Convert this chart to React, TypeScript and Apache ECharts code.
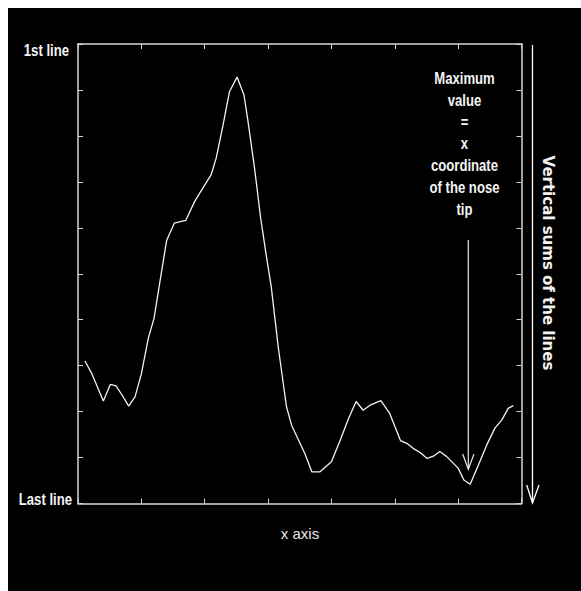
import React, { useEffect, useRef } from "react";
import * as echarts from "echarts";

// x positions (column index, 0..70) and vertical sums (0 = top "1st line", 100 = bottom "Last line")
const xs = [1.1, 2.2, 4.0, 5.1, 6.0, 7.0, 8.0, 9.0, 10.0, 11.1, 12.0, 12.9, 14.0, 15.2, 16.0, 17.0, 18.4, 19.5, 21.0, 21.8, 22.9, 23.9, 25.1, 26.2, 26.8, 27.9, 28.8, 29.7, 30.5, 31.6, 32.1, 32.9, 33.7, 34.3, 35.8, 36.9, 38.2, 40.0, 41.4, 42.7, 43.9, 45.0, 46.1, 47.8, 49.2, 50.9, 51.9, 52.9, 54.0, 55.1, 56.1, 57.1, 58.2, 60.0, 60.9, 61.9, 63.2, 64.5, 65.8, 66.9, 67.9, 68.7];
const sums = [69.0, 71.8, 77.7, 74.1, 74.4, 76.5, 78.8, 76.8, 71.8, 64.0, 59.7, 52.0, 42.7, 39.0, 38.7, 38.4, 34.3, 31.8, 28.5, 24.9, 17.6, 10.4, 7.2, 11.1, 16.5, 27.4, 37.6, 45.9, 52.8, 65.9, 70.9, 78.9, 82.9, 84.7, 89.1, 93.1, 93.1, 90.9, 86.2, 81.5, 77.8, 79.7, 78.6, 77.6, 80.4, 86.3, 86.9, 88.0, 88.9, 90.2, 89.7, 88.7, 89.8, 92.3, 94.9, 95.8, 91.6, 87.3, 83.6, 81.8, 79.3, 78.7];

const yLabels = ["1st line", "Last line"];
const xAxisName = "x axis";
const rightAxisName = "Vertical sums of the lines";
const annotationLines = ["Maximum", "value", "=", "x", "coordinate", "of the nose", "tip"];

const X_MIN = 0, X_MAX = 70, X_STEP = 10;
const Y_MIN = 0, Y_MAX = 100, Y_STEP = 10;

export default function App() {
  const ref = useRef<HTMLDivElement>(null);

  useEffect(() => {
    if (!ref.current) return;
    const chart = echarts.init(ref.current, null, { renderer: "svg" });
    const axisLine = { show: true, onZero: false, lineStyle: { color: "#d6d6d6", width: 1.5 } };
    const tick = { show: true, inside: true, length: 5, lineStyle: { color: "#d6d6d6", width: 1 } };
    const narrow = {
      fill: "#f4f4f4",
      fontFamily: "'Liberation Sans', Arial, sans-serif",
      fontWeight: "bold",
      fontSize: 16,
    };
    const xAxisBase = {
      type: "value",
      min: X_MIN,
      max: X_MAX,
      interval: X_STEP,
      axisLine,
      axisTick: tick,
      axisLabel: { show: false },
      splitLine: { show: false },
    };
    const yAxisBase = {
      type: "value",
      min: Y_MIN,
      max: Y_MAX,
      interval: Y_STEP,
      inverse: true,
      axisLine,
      axisTick: tick,
      axisLabel: { show: false },
      splitLine: { show: false },
    };
    chart.setOption({
      animation: false,
      backgroundColor: "#000000",
      grid: { left: 70, top: 36, right: 59.5, bottom: 87.5, show: false },
      xAxis: [
        { ...xAxisBase, position: "bottom" },
        { ...xAxisBase, position: "top" },
      ],
      yAxis: [
        { ...yAxisBase, position: "left" },
        { ...yAxisBase, position: "right" },
      ],
      series: [
        {
          type: "line",
          xAxisIndex: 0,
          yAxisIndex: 0,
          data: xs.map((x, i) => [x, sums[i]]),
          showSymbol: false,
          lineStyle: { color: "#f2f2f2", width: 1.3 },
        },
      ],
      graphic: [
        {
          type: "text",
          x: 61,
          y: 43,
          scaleX: 0.82,
          style: { ...narrow, text: yLabels[0], align: "right", verticalAlign: "middle" },
        },
        {
          type: "text",
          x: 64,
          y: 492,
          scaleX: 0.82,
          style: { ...narrow, text: yLabels[1], align: "right", verticalAlign: "middle" },
        },
        {
          type: "text",
          x: 292,
          y: 525,
          style: {
            text: xAxisName,
            fill: "#e8e8e8",
            fontFamily: "'Liberation Sans', Arial, sans-serif",
            fontSize: 15,
            align: "center",
            verticalAlign: "middle",
          },
        },
        {
          type: "text",
          x: 456.5,
          y: 136,
          scaleX: 0.82,
          style: {
            ...narrow,
            text: annotationLines.join("\n"),
            lineHeight: 21.8,
            align: "center",
            verticalAlign: "middle",
          },
        },
        {
          type: "line",
          shape: { x1: 460.3, y1: 232, x2: 460.3, y2: 461 },
          style: { stroke: "#e6e6e6", lineWidth: 1.2 },
        },
        {
          type: "polyline",
          shape: { points: [[454.7, 446], [460.3, 461.3], [466, 446]] },
          style: { stroke: "#e6e6e6", lineWidth: 1.2, fill: "none" },
        },
        {
          type: "line",
          shape: { x1: 524.5, y1: 37, x2: 524.5, y2: 495 },
          style: { stroke: "#ffffff", lineWidth: 1.3 },
        },
        {
          type: "polyline",
          shape: { points: [[518.7, 477], [524.5, 495], [531, 477]] },
          style: { stroke: "#ffffff", lineWidth: 1.3, fill: "none" },
        },
        {
          type: "text",
          x: 539.5,
          y: 255,
          rotation: -Math.PI / 2,
          style: {
            text: rightAxisName,
            fill: "#f2f2f2",
            fontFamily: "'DejaVu Sans', sans-serif",
            fontWeight: "bold",
            fontSize: 15,
            align: "center",
            verticalAlign: "middle",
          },
        },
      ],
    });
    return () => chart.dispose();
  }, []);

  return (
    <div
      ref={ref}
      style={{ position: "fixed", left: 8, top: 8, width: 573, height: 583, background: "#000" }}
    />
  );
}
